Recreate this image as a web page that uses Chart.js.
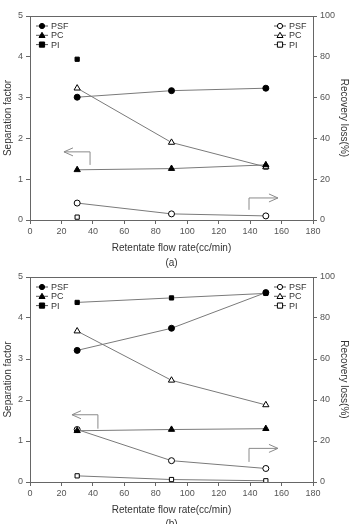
<!DOCTYPE html>
<html><head><meta charset="utf-8">
<script src="https://cdn.jsdelivr.net/npm/chart.js@4/dist/chart.umd.min.js"></script>
<style>
html,body{margin:0;padding:0;background:#fff;}
.page{width:353px;height:524px;position:relative;overflow:hidden;}
canvas{display:block;position:absolute;left:0;}
#ca{top:0;}
#cb{top:262px;}
</style></head>
<body>
<div class="page">
<canvas id="cb" width="353" height="262"></canvas>
<canvas id="ca" width="353" height="275"></canvas>
</div>
<script>
// ---- data ----
const flowRates = [30, 90, 150];
const seriesNames = ['PSF', 'PC', 'PI'];
const xTicks = [0, 20, 40, 60, 80, 100, 120, 140, 160, 180];
const leftTicks = [0, 1, 2, 3, 4, 5];
const rightTicks = [0, 20, 40, 60, 80, 100];

// (a)
const sepPSF_a = [3.01, 3.17, 3.23];
const sepPC_a = [1.23, 1.26, 1.35];
const sepPI_a = [3.94, null, null];
const recPSF_a = [8.3, 3.0, 2.0];
const recPC_a = [64.6, 38.0, 26.0];
const recPI_a = [1.4, null, 26.0];

// (b)
const sepPSF_b = [3.21, 3.75, 4.62];
const sepPC_b = [1.25, 1.28, 1.30];
const sepPI_b = [4.38, 4.49, 4.60];
const recPSF_b = [25.6, 10.4, 6.6];
const recPC_b = [73.6, 49.6, 37.6];
const recPI_b = [3.0, 1.2, 0.6];

const FONT = "'Liberation Sans', Arial, sans-serif";
const LINE = '#7a7a7a';
const styles = ['circle', 'triangle', 'rect'];

function pts(ys) { return flowRates.map((x, i) => ({x: x, y: ys[i]})); }

function ds(label, ys, axis, idx, filled) {
  return {
    label: label, data: pts(ys), yAxisID: axis,
    borderColor: LINE, borderWidth: 1,
    pointStyle: styles[idx], pointRadius: idx === 1 ? 3.6 : 3,
    pointBackgroundColor: filled ? '#000' : '#fff',
    pointBorderColor: '#000', pointBorderWidth: 1,
    spanGaps: false, tension: 0
  };
}

const frame = {
  id: 'frame',
  afterDatasetsDraw(chart, args, opts) {
    const ctx = chart.ctx, a = chart.chartArea;
    const xs = chart.scales.x, yl = chart.scales.y;
    ctx.save();
    // top border
    ctx.strokeStyle = '#666'; ctx.lineWidth = 1;
    ctx.beginPath(); ctx.moveTo(a.left, a.top + 0.5); ctx.lineTo(a.right, a.top + 0.5); ctx.stroke();
    // arrows
    ctx.strokeStyle = '#8a8a8a';
    opts.arrows.forEach(ar => {
      const tx = xs.getPixelForValue(ar.tip), cx = xs.getPixelForValue(ar.corner);
      const y = yl.getPixelForValue(ar.y), y2 = yl.getPixelForValue(ar.y2);
      ctx.beginPath();
      ctx.moveTo(cx, y2); ctx.lineTo(cx, y); ctx.lineTo(tx, y);
      const d = tx < cx ? 1 : -1;
      ctx.moveTo(tx + d * 9, y - 4); ctx.lineTo(tx, y); ctx.lineTo(tx + d * 9, y + 4);
      ctx.stroke();
    });
    // legends
    ctx.font = '9px ' + FONT;
    ctx.textBaseline = 'middle';
    const groups = [
      {x: a.left + 12, filled: true},
      {x: a.right - 33, filled: false}
    ];
    groups.forEach(g => {
      seriesNames.forEach((n, i) => {
        const yy = a.top + 10 + i * 9.3;
        ctx.strokeStyle = '#555'; ctx.lineWidth = 1;
        ctx.beginPath(); ctx.moveTo(g.x - 6, yy); ctx.lineTo(g.x + 6, yy); ctx.stroke();
        ctx.fillStyle = g.filled ? '#000' : '#fff';
        ctx.strokeStyle = '#000';
        ctx.beginPath();
        if (i === 0) { ctx.arc(g.x, yy, 2.6, 0, Math.PI * 2); }
        else if (i === 1) { ctx.moveTo(g.x, yy - 3); ctx.lineTo(g.x + 3, yy + 2.2); ctx.lineTo(g.x - 3, yy + 2.2); ctx.closePath(); }
        else { ctx.rect(g.x - 2.6, yy - 2.6, 5.2, 5.2); }
        ctx.fill(); ctx.stroke();
        ctx.fillStyle = '#333';
        ctx.fillText(n, g.x + 9, yy + 0.5);
      });
    });
    // sub label
    ctx.font = '10px ' + FONT;
    ctx.textAlign = 'center';
    ctx.fillStyle = '#333';
    ctx.fillText(opts.sub, (a.left + a.right) / 2, a.bottom + opts.subOffset);
    ctx.restore();
  }
};

function make(id, sub, subOffset, padBottom, sep, rec, arrows) {
  return new Chart(document.getElementById(id), {
    type: 'line',
    data: {
      datasets: [
        ds('PSF', sep[0], 'y', 0, true),
        ds('PC', sep[1], 'y', 1, true),
        ds('PI', sep[2], 'y', 2, true),
        ds('PSF', rec[0], 'y1', 0, false),
        ds('PC', rec[1], 'y1', 1, false),
        ds('PI', rec[2], 'y1', 2, false)
      ]
    },
    options: {
      responsive: false, animation: false,
      layout: {padding: {top: id === 'ca' ? 16 : 15, right: 0, left: 0, bottom: padBottom}},
      plugins: {legend: {display: false}, tooltip: {enabled: false},
                frame: {arrows: arrows, sub: sub, subOffset: subOffset}},
      scales: {
        x: {
          type: 'linear', min: 0, max: 180,
          afterBuildTicks: s => { s.ticks = xTicks.map(v => ({value: v})); },
          afterFit: s => { s.height = 42; },
          grid: {drawOnChartArea: false, drawTicks: true, tickLength: 4, color: '#666'},
          border: {color: '#666', width: 1},
          ticks: {color: '#555', font: {size: 9, family: FONT}, padding: 2, maxRotation: 0},
          title: {display: true, text: 'Retentate flow rate(cc/min)', color: '#333',
                  font: {size: 10, family: FONT}, padding: {top: 4, bottom: 8}}
        },
        y: {
          type: 'linear', position: 'left', min: 0, max: 5,
          afterBuildTicks: s => { s.ticks = leftTicks.map(v => ({value: v})); },
          afterFit: s => { s.width = 30; },
          grid: {drawOnChartArea: false, drawTicks: true, tickLength: 4, color: '#666'},
          border: {color: '#666', width: 1},
          ticks: {color: '#555', font: {size: 9, family: FONT}, padding: 3},
          title: {display: true, text: 'Separation factor', color: '#333',
                  font: {size: 10, family: FONT}, padding: {top: 2, bottom: 2}}
        },
        y1: {
          type: 'linear', position: 'right', min: 0, max: 100,
          afterBuildTicks: s => { s.ticks = rightTicks.map(v => ({value: v})); },
          afterFit: s => { s.width = 40; },
          grid: {drawOnChartArea: false, drawTicks: true, tickLength: 4, color: '#666'},
          border: {color: '#666', width: 1},
          ticks: {color: '#555', font: {size: 9, family: FONT}, padding: 3},
          title: {display: true, text: 'Recovery loss(%)', color: '#333',
                  font: {size: 10, family: FONT}, padding: {top: 3, bottom: 0}}
        }
      }
    },
    plugins: [frame]
  });
}

make('ca', '(a)', 43, 13, [sepPSF_a, sepPC_a, sepPI_a], [recPSF_a, recPC_a, recPI_a],
  [{tip: 21.6, corner: 38.2, y: 1.67, y2: 1.35}, {tip: 157.7, corner: 139.3, y: 0.54, y2: 0.25}]);
make('cb', '(b)', 42, 0, [sepPSF_b, sepPC_b, sepPI_b], [recPSF_b, recPC_b, recPI_b],
  [{tip: 26.7, corner: 43.2, y: 1.64, y2: 1.30}, {tip: 157.7, corner: 139.3, y: 0.82, y2: 0.49}]);
</script>
</body></html>
